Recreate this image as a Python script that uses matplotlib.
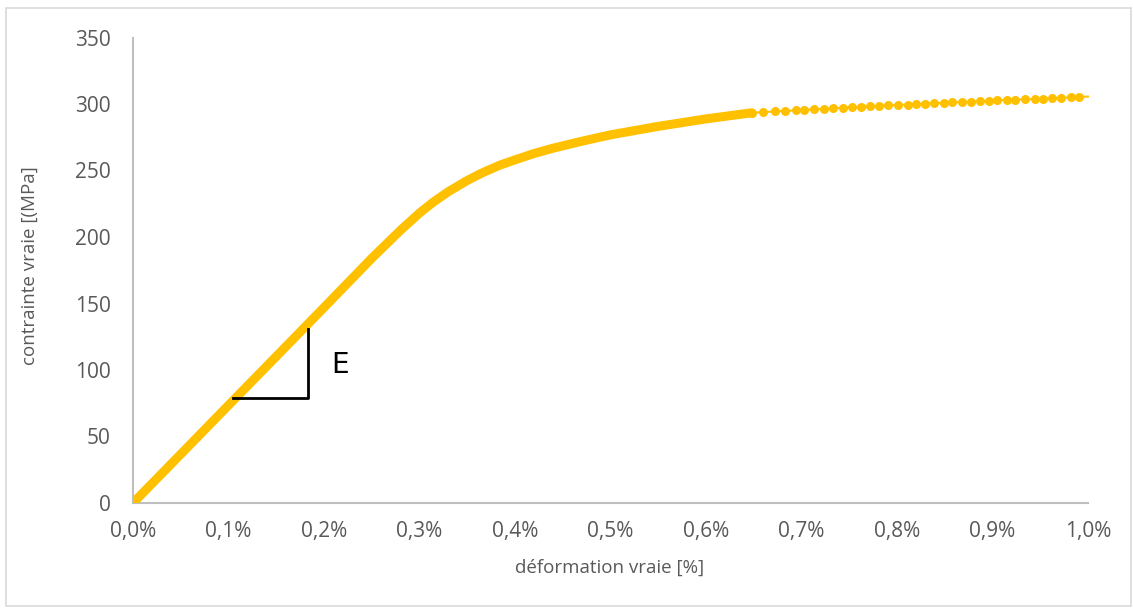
import matplotlib
matplotlib.use("Agg")
import matplotlib.pyplot as plt
from matplotlib.patches import Rectangle

# Dense part of the curve (strain %, stress MPa)
dense_strain = [0.0, 0.05, 0.10, 0.15, 0.20, 0.25, 0.28, 0.30, 0.314, 0.33, 0.35, 0.365,
                0.384, 0.40, 0.42, 0.44, 0.47, 0.50, 0.55, 0.60, 0.648]
dense_stress = [0.0, 36.7, 73.5, 110.2, 147.0, 184.0, 205.0, 218.0, 226.0, 234.0, 242.5, 248.0,
                254.0, 258.0, 262.8, 266.8, 272.0, 276.8, 283.2, 288.8, 293.4]

# Sparse markers beyond ~0.65 %
sparse_strain = [0.648, 0.660, 0.672, 0.683, 0.694, 0.703, 0.713, 0.724, 0.733, 0.743,
                 0.753, 0.762, 0.772, 0.781, 0.791, 0.801, 0.811, 0.820, 0.829, 0.839,
                 0.849, 0.858, 0.868, 0.877, 0.887, 0.896, 0.905, 0.915, 0.924, 0.934,
                 0.944, 0.953, 0.962, 0.972, 0.982, 0.991]
sparse_stress = [293.4, 293.9, 294.4, 294.8, 295.2, 295.6, 296.0, 296.4, 296.8, 297.1,
                 297.5, 297.9, 298.2, 298.6, 298.9, 299.3, 299.6, 299.9, 300.3, 300.6,
                 300.9, 301.2, 301.5, 301.8, 302.1, 302.4, 302.7, 303.0, 303.3, 303.5,
                 303.8, 304.1, 304.4, 304.7, 305.0, 305.3]
tail_strain = [0.991, 1.0]
tail_stress = [305.3, 305.6]

# Slope triangle
tri_x = [0.105, 0.1836, 0.1836]
tri_y = [79.3, 79.3, 130.7]

xticks = [0.0, 0.1, 0.2, 0.3, 0.4, 0.5, 0.6, 0.7, 0.8, 0.9, 1.0]
xticklabels = ["0,0%", "0,1%", "0,2%", "0,3%", "0,4%", "0,5%", "0,6%", "0,7%", "0,8%", "0,9%", "1,0%"]
yticks = [0, 50, 100, 150, 200, 250, 300, 350]

plt.rcParams['font.family'] = ['Open Sans', 'DejaVu Sans']
gold = "#FFC000"
tick_col = "#595959"
ax_col = "#BFBFBF"

fig = plt.figure(figsize=(11.33, 6.08), dpi=100)
fig.patches.append(Rectangle((6/1133, 2/608), 1125/1133, 598/608, transform=fig.transFigure,
                             fill=False, edgecolor="#D9D9D9", linewidth=1.2))
ax = fig.add_axes([133/1133, 1 - 503/608, 955/1133, (503 - 37.5)/608])

ax.plot(dense_strain, dense_stress, color=gold, linewidth=6.5, solid_capstyle='round',
        solid_joinstyle='round', zorder=3)
ax.plot(sparse_strain, sparse_stress, color=gold, linewidth=1.5, marker='o', markersize=6.5,
        markeredgewidth=0, zorder=3)
ax.plot(tail_strain, tail_stress, color=gold, linewidth=1.5, zorder=3, clip_on=False)

ax.plot(tri_x, tri_y, color="black", linewidth=2, zorder=4)
ax.text(0.2075, 104, "E", fontsize=20, family=['DejaVu Sans'], va='center', ha='left', color='black')

ax.set_xlim(0, 1.0)
ax.set_ylim(0, 350)
ax.set_xticks(xticks)
ax.set_xticklabels(xticklabels)
ax.set_yticks(yticks)
ax.tick_params(axis='both', length=0, labelsize=15, labelcolor=tick_col)
ax.tick_params(axis='x', pad=13)
ax.tick_params(axis='y', pad=16)

for s in ['top', 'right']:
    ax.spines[s].set_visible(False)
for s in ['left', 'bottom']:
    ax.spines[s].set_color(ax_col)
    ax.spines[s].set_linewidth(1.5)

fig.text(610/1133, 1 - 568/608, "déformation vraie [%]", fontsize=13.5, color=tick_col,
         ha='center', va='center')
fig.text(30/1133, 1 - 266/608, "contrainte vraie [(MPa]", fontsize=13.5, color=tick_col,
         ha='center', va='center', rotation=90)

fig.savefig("out.png", dpi=100, facecolor="white")
